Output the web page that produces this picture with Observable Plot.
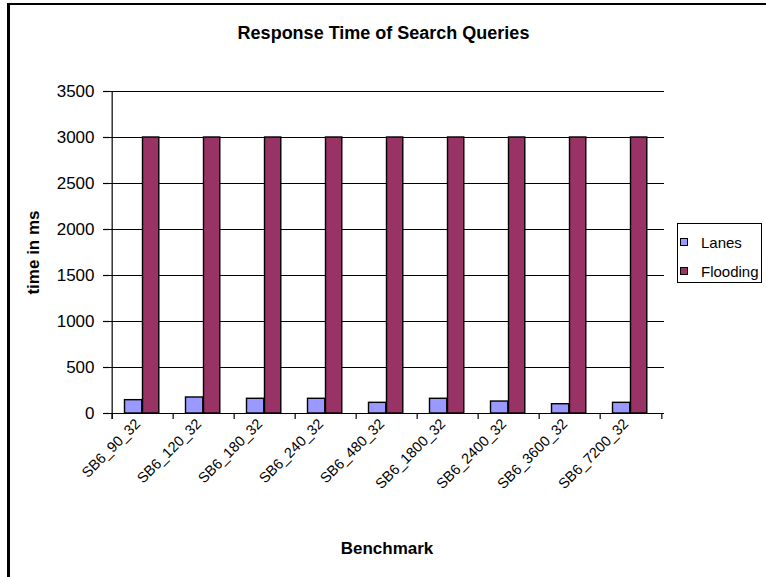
<!DOCTYPE html>
<html>
<head>
<meta charset="utf-8">
<script src="https://cdn.jsdelivr.net/npm/d3@7"></script>
<script src="https://cdn.jsdelivr.net/npm/@observablehq/plot@0.6"></script>
<style>
  html, body { margin: 0; padding: 0; background: #fff; }
  #wrap { position: relative; width: 766px; height: 577px; overflow: hidden; font-family: "Liberation Sans", Arial, sans-serif; }
  #border { position: absolute; left: 7px; top: 3px; width: 900px; height: 700px; border-left: 3px solid #000; border-top: 2px solid #000; box-sizing: border-box; }
  #chart { position: absolute; left: 0; top: 0; }
  #legend { position: absolute; left: 677px; top: 223px; width: 85px; height: 60px; border: 1px solid #000; background: #fff; box-sizing: border-box; font-size: 15px; }
  .item { position: absolute; left: 2px; display: flex; align-items: center; white-space: nowrap; height: 18px; }
  .sw { width: 6px; height: 6px; border: 1px solid #000; margin-right: 13px; }
</style>
</head>
<body>
<div id="wrap">
  <div id="border"></div>
  <div id="chart"></div>
  <div id="legend"></div>
</div>
<script>
const categories = ["SB6_90_32","SB6_120_32","SB6_180_32","SB6_240_32","SB6_480_32","SB6_1800_32","SB6_2400_32","SB6_3600_32","SB6_7200_32"];
const lanes = [145, 174, 160, 160, 116, 160, 130, 101, 116];
const flooding = [3000, 3000, 3000, 3000, 3000, 3000, 3000, 3000, 3000];
const yTicks = [0, 500, 1000, 1500, 2000, 2500, 3000, 3500];
const seriesNames = ["Lanes", "Flooding"];
const seriesColors = ["#9999FF", "#993366"];
const titleText = "Response Time of Search Queries";
const xLabel = "Benchmark";
const yLabel = "time in ms";

const W = 766, H = 577;
const mL = 109, mR = 102, mT = 91, mB = 164;
const step = (W - mL - mR) / categories.length;
const plotH = H - mT - mB;

const lanesData = categories.map((c, i) => ({c, v: lanes[i]}));
const floodData = categories.map((c, i) => ({c, v: flooding[i]}));

const chart = Plot.plot({
  width: W, height: H,
  marginLeft: mL, marginRight: mR, marginTop: mT, marginBottom: mB,
  style: {fontFamily: '"Liberation Sans", Arial, sans-serif', background: "transparent", color: "#000"},
  x: {domain: categories, padding: 0},
  y: {domain: [0, 3500]},
  marks: [
    Plot.ruleY(yTicks, {stroke: "#000", strokeWidth: 1.2}),
    Plot.ruleX([categories[0]], {x: d => d, dx: -step / 2, stroke: "#000", strokeWidth: 1.2, insetBottom: -6}),
    Plot.ruleX(categories, {x: d => d, dx: -step / 2, stroke: "#000", strokeWidth: 1.2, insetTop: plotH, insetBottom: -6}),
    Plot.ruleX([categories[categories.length - 1]], {x: d => d, dx: step / 2, stroke: "#000", strokeWidth: 1.2, insetTop: plotH, insetBottom: -6}),
    Plot.barY(lanesData, {x: "c", y: "v", fill: seriesColors[0], stroke: "#000", strokeWidth: 1.4, insetLeft: 12.5, insetRight: 31.2}),
    Plot.barY(floodData, {x: "c", y: "v", fill: seriesColors[1], stroke: "#000", strokeWidth: 1.4, insetLeft: 30.5, insetRight: 14.2}),
    Plot.axisY({ticks: yTicks, tickFormat: d3.format("d"), tickSize: 6, tickPadding: 9, fontSize: 17, label: null, stroke: "#000", strokeWidth: 1.2}),
    Plot.axisX({tickSize: 0, tickRotate: -45, tickPadding: 8, dx: -5, fontSize: 14.5, label: null}),
    Plot.text([titleText], {frameAnchor: "top", lineAnchor: "middle", textAnchor: "middle", dx: -3.5, dy: -58, fontSize: 18, fontWeight: "bold"}),
    Plot.text([xLabel], {frameAnchor: "bottom", lineAnchor: "middle", textAnchor: "middle", dx: 0, dy: 135, fontSize: 17, fontWeight: "bold"}),
    Plot.text([yLabel], {frameAnchor: "left", lineAnchor: "middle", textAnchor: "middle", dx: -76, rotate: -90, fontSize: 17, fontWeight: "bold"})
  ]
});
document.getElementById("chart").appendChild(chart);

const legend = document.getElementById("legend");
seriesNames.forEach((name, i) => {
  const item = document.createElement("div");
  item.className = "item";
  item.style.top = (9 + i * 29) + "px";
  const sw = document.createElement("div");
  sw.className = "sw";
  sw.style.background = seriesColors[i];
  const label = document.createElement("span");
  label.textContent = name;
  item.appendChild(sw);
  item.appendChild(label);
  legend.appendChild(item);
});
</script>
</body>
</html>
